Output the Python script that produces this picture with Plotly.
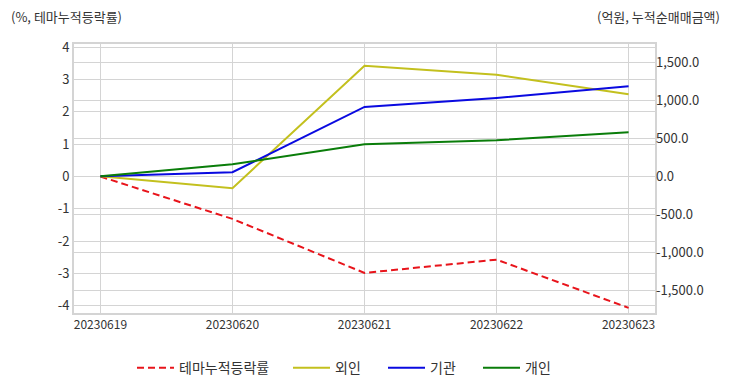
import plotly.graph_objects as go

dates = ["20230619", "20230620", "20230621", "20230622", "20230623"]
theme_pct = [0.0, -1.31, -2.98, -2.57, -4.06]
foreign = [0.0, -158, 1455, 1335, 1080]
institution = [0.0, 52, 912, 1030, 1184]
individual = [0.0, 158, 421, 474, 579]

left_ticks = [-4, -3, -2, -1, 0, 1, 2, 3, 4]
left_ticktext = ["-4", "-3", "-2", "-1", "0", "1", "2", "3", "4"]
right_ticks = [-1500, -1000, -500, 0, 500, 1000, 1500]
right_ticktext = ["-1,500.0", "-1,000.0", "-500.0", "0.0", "500.0", "1,000.0", "1,500.0"]

FONT = "Noto Sans CJK KR"
GRID = "#d4d4d4"
TXT = "#333333"

fig = go.Figure()
fig.add_trace(go.Scatter(x=dates, y=theme_pct, name="테마누적등락률", mode="lines",
                         line=dict(color="#e8141b", width=2, dash="7px,4px"), yaxis="y",
                         legend="legend"))
fig.add_trace(go.Scatter(x=dates, y=foreign, name="외인", mode="lines",
                         line=dict(color="#c3c01e", width=2), yaxis="y2", legend="legend2"))
fig.add_trace(go.Scatter(x=dates, y=institution, name="기관", mode="lines",
                         line=dict(color="#0a0ae0", width=2), yaxis="y2", legend="legend2"))
fig.add_trace(go.Scatter(x=dates, y=individual, name="개인", mode="lines",
                         line=dict(color="#0a7d0a", width=2), yaxis="y2", legend="legend2"))

fig.update_layout(
    width=732, height=392,
    margin=dict(l=74, r=77, t=44, b=79, autoexpand=False),
    paper_bgcolor="white", plot_bgcolor="white",
    font=dict(family=FONT, size=12, color=TXT),
    xaxis=dict(type="category", range=[-0.2, 4.2], showgrid=True, gridcolor=GRID,
               gridwidth=1, showline=True, linecolor=GRID, linewidth=2, mirror=True,
               ticks="", tickfont=dict(size=12, color=TXT), zeroline=False, automargin=False),
    yaxis=dict(range=[-4.22, 4.1], tickvals=left_ticks, ticktext=left_ticktext,
               showgrid=True, gridcolor=GRID,
               showline=True, linecolor=GRID, linewidth=2, mirror=True, zeroline=False,
               ticks="", tickfont=dict(size=13, color=TXT), automargin=False),
    yaxis2=dict(overlaying="y", side="right", range=[-1800, 1740],
                tickvals=right_ticks, ticktext=right_ticktext,
                showgrid=True, gridcolor=GRID, zeroline=False,
                showline=False, ticks="", tickfont=dict(size=13, color=TXT), automargin=False),
    legend=dict(orientation="h", x=(132 - 74) / 581, xanchor="left", y=-0.146, yanchor="top",
                font=dict(size=14, color=TXT), itemwidth=37, bgcolor="rgba(0,0,0,0)"),
    legend2=dict(orientation="h", x=(288 - 74) / 581, xanchor="left", y=-0.146, yanchor="top",
                 font=dict(size=14, color=TXT), itemwidth=37, entrywidth=43,
                 bgcolor="rgba(0,0,0,0)"),
    showlegend=True,
    annotations=[
        dict(text="(%, 테마누적등락률)", xref="paper", yref="paper", x=-0.112, y=1.104,
             xanchor="left", yanchor="middle", showarrow=False, font=dict(size=13, color=TXT)),
        dict(text="(억원, 누적순매매금액)", xref="paper", yref="paper", x=1.115, y=1.104,
             xanchor="right", yanchor="middle", showarrow=False, font=dict(size=13, color=TXT)),
    ],
)

fig.write_html("out.html", config={"displayModeBar": False},
               post_script="document.body.style.margin='0px';")
